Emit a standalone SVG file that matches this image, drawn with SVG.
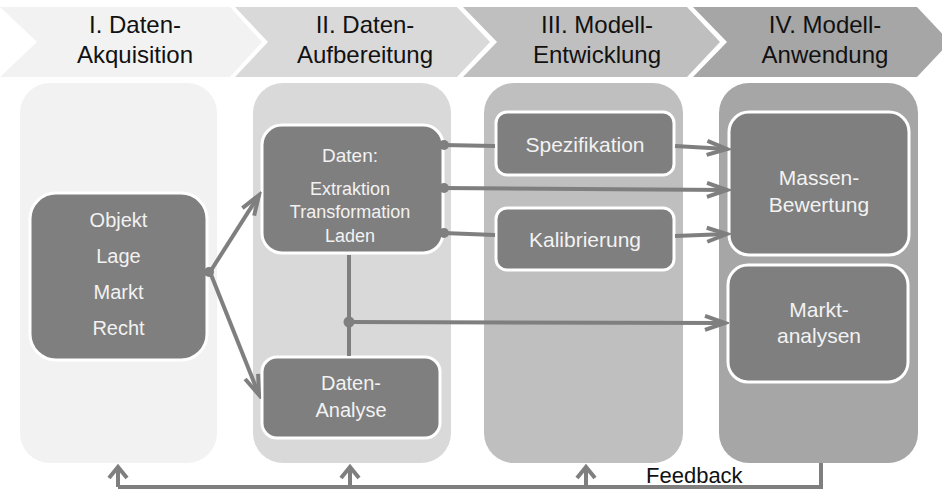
<svg xmlns="http://www.w3.org/2000/svg" width="942" height="491" viewBox="0 0 942 491">
<style>
.hd{font-family:"Liberation Sans",Arial,sans-serif;font-size:24px;fill:#111;text-anchor:middle}
.nd{fill:#7f7f7f;stroke:#fff;stroke-width:3}
.nt{font-family:"Liberation Sans",Arial,sans-serif;fill:#f2f2f2;text-anchor:middle}
.cn{stroke:#7f7f7f;stroke-width:4;fill:none}
.dot{fill:#7f7f7f}
.fb{font-family:"Liberation Sans",Arial,sans-serif;font-size:22px;fill:#111}
</style>
<defs>
<marker id="arr" markerUnits="userSpaceOnUse" markerWidth="26" markerHeight="20" refX="22" refY="10" orient="auto" viewBox="0 0 26 20">
<path d="M2,3 L22,10 L2,17" fill="none" stroke="#7f7f7f" stroke-width="4"/>
</marker>
<marker id="up" markerUnits="userSpaceOnUse" markerWidth="18" markerHeight="24" refX="13" refY="12" orient="auto" viewBox="0 0 18 24">
<path d="M2,3 L13,12 L2,21" fill="none" stroke="#7f7f7f" stroke-width="4"/>
</marker>
</defs>
<rect width="942" height="491" fill="#fff"/>
<g id="phases">
<polygon points="0,7 230,7 262,42 230,77 0,77 37,42" fill="#f2f2f2"/>
<polygon points="235,7 457,7 490,42 457,77 235,77 268,42" fill="#d9d9d9"/>
<polygon points="463,7 687,7 720,42 687,77 463,77 497,42" fill="#bfbfbf"/>
<polygon points="693,7 917,7 950,42 917,77 693,77 727,42" fill="#a6a6a6"/>
<text class="hd" x="135" y="33">I. Daten-</text>
<text class="hd" x="135" y="63">Akquisition</text>
<text class="hd" x="365" y="33">II. Daten-</text>
<text class="hd" x="365" y="63">Aufbereitung</text>
<text class="hd" x="597" y="33">III. Modell-</text>
<text class="hd" x="597" y="63">Entwicklung</text>
<text class="hd" x="825" y="33">IV. Modell-</text>
<text class="hd" x="825" y="63">Anwendung</text>
</g>
<g id="columns">
<rect x="20" y="83" width="197" height="380" rx="30" fill="#f2f2f2"/>
<rect x="253" y="83" width="198" height="380" rx="30" fill="#d9d9d9"/>
<rect x="484" y="83" width="199" height="380" rx="30" fill="#bfbfbf"/>
<rect x="719" y="83" width="199" height="380" rx="30" fill="#a6a6a6"/>
</g>
<g id="n-objekt">
<rect class="nd" x="30" y="193" width="177" height="167" rx="26"/>
<text class="nt" x="118.5" y="227" font-size="20">Objekt</text>
<text class="nt" x="118.5" y="263" font-size="20">Lage</text>
<text class="nt" x="118.5" y="299" font-size="20">Markt</text>
<text class="nt" x="118.5" y="335" font-size="20">Recht</text>
</g>
<g id="n-daten">
<rect class="nd" x="262" y="125" width="181" height="128" rx="20"/>
<text class="nt" x="350" y="162" font-size="19">Daten:</text>
<text class="nt" x="350" y="195" font-size="18">Extraktion</text>
<text class="nt" x="350" y="218" font-size="18">Transformation</text>
<text class="nt" x="350" y="242" font-size="18">Laden</text>
</g>
<g id="n-analyse">
<rect class="nd" x="262" y="357" width="178" height="81" rx="15"/>
<text class="nt" x="351" y="390" font-size="20">Daten-</text>
<text class="nt" x="351" y="417" font-size="20">Analyse</text>
</g>
<g id="n-spezifikation">
<rect class="nd" x="496" y="112" width="178" height="63" rx="11"/>
<text class="nt" x="585" y="152" font-size="21">Spezifikation</text>
</g>
<g id="n-kalibrierung">
<rect class="nd" x="496" y="208" width="178" height="62" rx="11"/>
<text class="nt" x="585" y="247" font-size="21">Kalibrierung</text>
</g>
<g id="n-massen">
<rect class="nd" x="729" y="112" width="180" height="143" rx="20"/>
<text class="nt" x="819" y="185" font-size="21">Massen-</text>
<text class="nt" x="819" y="212" font-size="21">Bewertung</text>
</g>
<g id="n-markt">
<rect class="nd" x="728" y="265" width="180" height="117" rx="20"/>
<text class="nt" x="819" y="317" font-size="21">Markt-</text>
<text class="nt" x="819" y="343" font-size="21">analysen</text>
</g>
<g id="connectors">
<line class="cn" x1="210" y1="272" x2="259" y2="195" marker-end="url(#arr)"/>
<line class="cn" x1="210" y1="272" x2="259" y2="395" marker-end="url(#arr)"/>
<circle class="dot" cx="209" cy="272" r="5"/>
<line class="cn" x1="443" y1="145" x2="495" y2="146"/>
<line class="cn" x1="675" y1="146" x2="727" y2="149" marker-end="url(#arr)"/>
<line class="cn" x1="443" y1="188" x2="727" y2="190" marker-end="url(#arr)"/>
<line class="cn" x1="443" y1="233" x2="495" y2="235"/>
<line class="cn" x1="675" y1="236" x2="727" y2="234" marker-end="url(#arr)"/>
<circle class="dot" cx="444" cy="145" r="5"/>
<circle class="dot" cx="444" cy="188" r="5"/>
<circle class="dot" cx="444" cy="233" r="5"/>
<line class="cn" x1="349" y1="255" x2="349" y2="356"/>
<line class="cn" x1="349" y1="322" x2="725" y2="323" marker-end="url(#arr)"/>
<circle class="dot" cx="349" cy="322" r="5.5"/>
<polyline class="cn" points="821,463 821,487 118,487"/>
<line class="cn" x1="118" y1="487" x2="118" y2="467" marker-end="url(#up)"/>
<line class="cn" x1="350" y1="487" x2="350" y2="467" marker-end="url(#up)"/>
<line class="cn" x1="586" y1="487" x2="586" y2="467" marker-end="url(#up)"/>
<text class="fb" x="646" y="483">Feedback</text>
</g>
</svg>
